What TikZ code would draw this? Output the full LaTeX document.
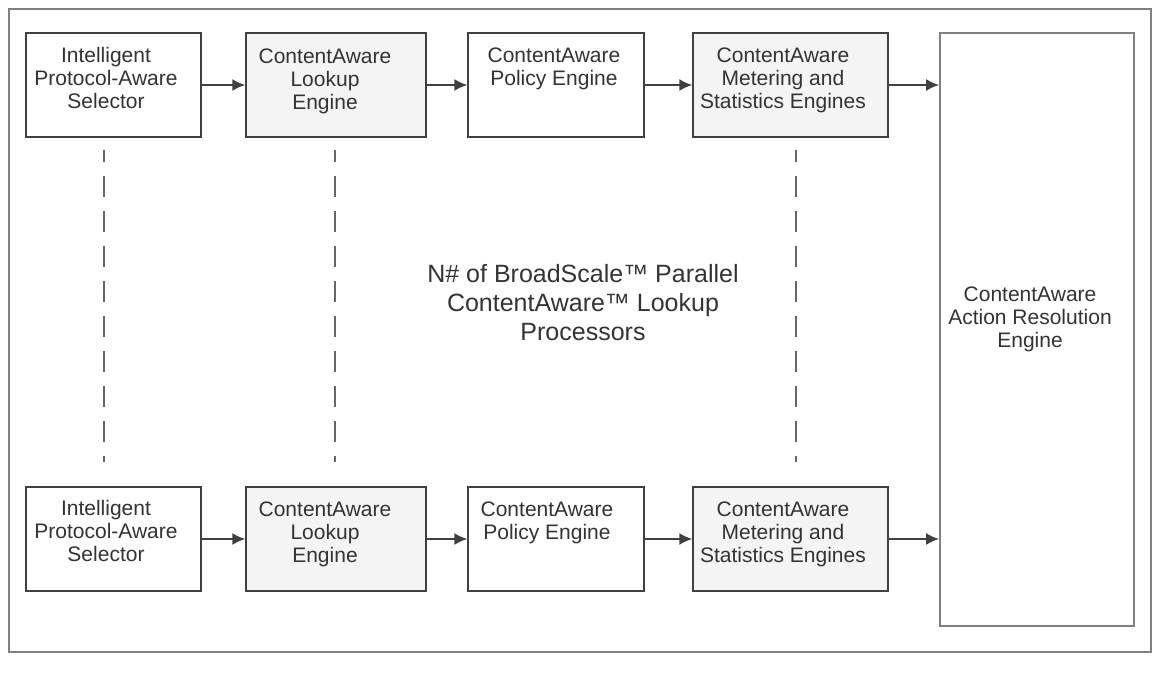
\documentclass[tikz,border=0pt]{standalone}
\usepackage{fontspec}
\setmainfont{Liberation Sans}
\usetikzlibrary{arrows.meta}
\definecolor{framegray}{HTML}{808080}
\definecolor{boxline}{HTML}{404040}
\definecolor{shade}{HTML}{F4F4F4}
\definecolor{txt}{HTML}{333333}
\definecolor{dashgray}{HTML}{666666}
\begin{document}
\begin{tikzpicture}[x=1pt,y=-1pt,
  stagebox/.style={draw=boxline, line width=1.5pt, minimum height=104pt, inner sep=0pt, fill=white},
  shadedbox/.style={stagebox, fill=shade},
  lbl/.style={text=txt, align=center, inner sep=0pt, anchor=north, font=\fontsize{21}{23}\selectfont},
  biglbl/.style={text=txt, align=center, inner sep=0pt, anchor=north, font=\fontsize{25}{29}\selectfont},
  flow/.style={draw=boxline, line width=1.5pt, -{Latex[length=13pt,width=12pt]}},
  sep/.style={draw=dashgray, line width=1.8pt, dash pattern=on 21pt off 14pt, dash phase=9pt}]
\useasboundingbox (0,0) rectangle (1155,693);
\draw[draw=framegray, line width=2pt] (9,9) rectangle (1151,652);

% top row
\node[stagebox, minimum width=175pt] (b11) at (113.5,85) {};
\node[shadedbox, minimum width=180pt] (b12) at (336,85) {};
\node[stagebox, minimum width=176pt] (b13) at (556,85) {};
\node[shadedbox, minimum width=195pt] (b14) at (790.5,85) {};
% bottom row
\node[stagebox, minimum width=175pt] (b21) at (113.5,539) {};
\node[shadedbox, minimum width=180pt] (b22) at (336,539) {};
\node[stagebox, minimum width=176pt] (b23) at (556,539) {};
\node[shadedbox, minimum width=195pt] (b24) at (790.5,539) {};
% resolution engine
\node[draw=framegray, line width=2pt, minimum width=194pt, minimum height=593pt, inner sep=0pt] (R) at (1037,329.5) {};

% labels
\node[lbl] (t11) at (106,47) {Intelligent\\Protocol-Aware\\Selector};
\node[lbl] (t12) at (325,49) {ContentAware\\Lookup\\Engine};
\node[lbl] (t13) at (554,48) {ContentAware\\Policy Engine};
\node[lbl] (t14) at (783,48) {ContentAware\\Metering and\\Statistics Engines};
\node[lbl] (t21) at (106,500) {Intelligent\\Protocol-Aware\\Selector};
\node[lbl] (t22) at (325,502) {ContentAware\\Lookup\\Engine};
\node[lbl] (t23) at (547,502) {ContentAware\\Policy Engine};
\node[lbl] (t24) at (783,502) {ContentAware\\Metering and\\Statistics Engines};
\node[lbl] (tR) at (1030,287) {ContentAware\\Action Resolution\\Engine};
\node[biglbl] (tc) at (583,264) {N\# of BroadScale™ Parallel\\ContentAware™ Lookup\\Processors};

% arrows
\draw[flow] (b11.east) -- (b12.west);
\draw[flow] (b12.east) -- (b13.west);
\draw[flow] (b13.east) -- (b14.west);
\draw[flow] (b14.east) -- (b14.east -| R.west);
\draw[flow] (b21.east) -- (b22.west);
\draw[flow] (b22.east) -- (b23.west);
\draw[flow] (b23.east) -- (b24.west);
\draw[flow] (b24.east) -- (b24.east -| R.west);

% dashed separators
\coordinate (d1a) at (104,150); \coordinate (d1b) at (104,462);
\coordinate (d2a) at (335,150); \coordinate (d2b) at (335,462);
\coordinate (d3a) at (796,150); \coordinate (d3b) at (796,462);
\draw[sep] (d1a) -- (d1b);
\draw[sep] (d2a) -- (d2b);
\draw[sep] (d3a) -- (d3b);
\end{tikzpicture}
\end{document}
